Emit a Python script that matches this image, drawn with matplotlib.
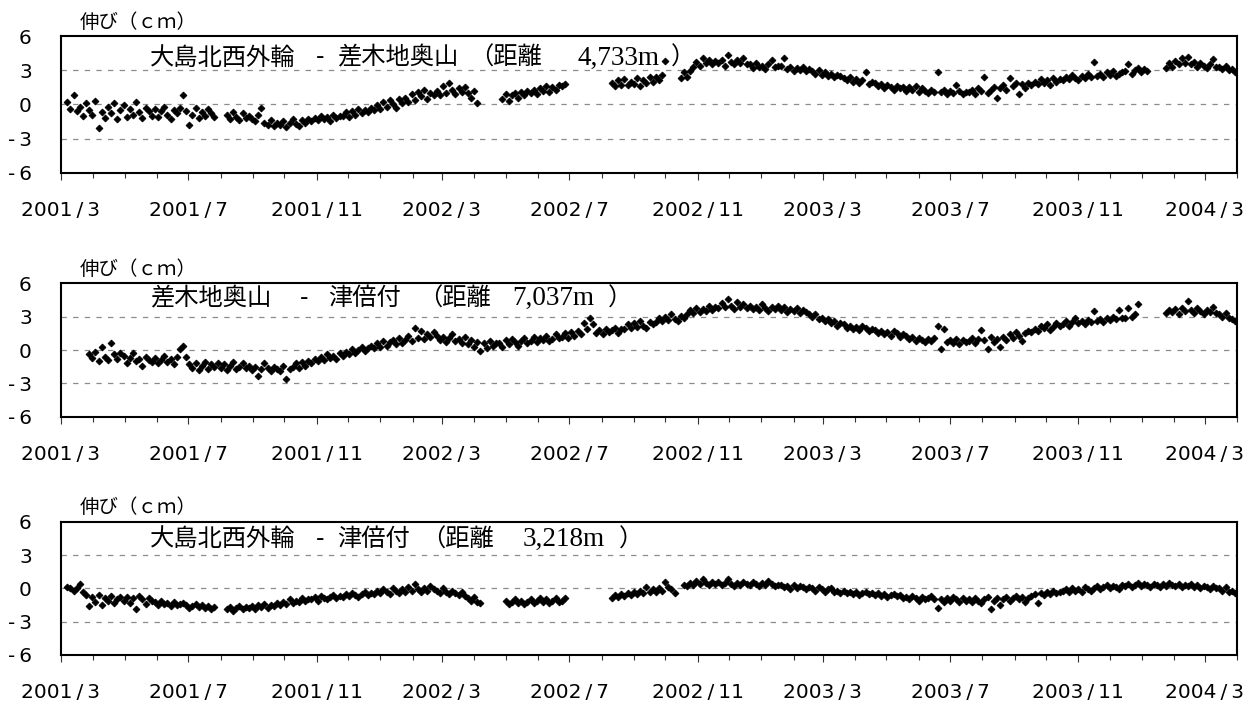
import numpy as np
import pandas as pd
import matplotlib
matplotlib.use("Agg")
import matplotlib.pyplot as plt
import matplotlib.dates as mdates
from matplotlib.ticker import FuncFormatter

nan = np.nan

# baseline readings, one every third day from 2001-03-01
dates = pd.date_range("2001-03-01", periods=376, freq="3D")

oshima_sashikiji = [
    nan, nan, 0.2, -0.4, 0.8, -0.6, -0.2, -1.0, 0.1, -0.5,
    -0.9, 0.3, -2.1, -0.7, -1.2, -0.2, -0.8, 0.1, -1.3, -0.5,
    -0.1, -1.1, -0.4, -0.9, 0.2, -0.7, -1.2, -0.3, -0.6, -1.0,
    -0.4, -1.1, -0.6, -0.2, -0.9, -1.3, -0.5, -0.8, -0.3, 0.8,
    -0.6, -1.8, -0.9, -0.3, -1.2, -0.7, -1.0, -0.4, -0.8, -1.1,
    nan, nan, nan, -0.9, -1.3, -0.7, -1.1, -1.4, -0.8, -1.2,
    -1.0, -1.3, -1.5, -0.9, -0.3, -1.6, -1.8, -1.4, -1.9, -1.6,
    -1.8, -1.5, -2.0, -1.6, -1.3, -1.7, -1.9, -1.4, -1.6, -1.3,
    -1.5, -1.2, -1.4, -1.0, -1.3, -1.1, -1.5, -0.9, -1.2, -1.0,
    -1.0, -0.7, -1.1, -0.6, -0.9, -0.4, -0.8, -0.5, -0.7, -0.3,
    -0.5, -0.1, -0.4, 0.2, -0.2, 0.4, 0.0, -0.3, 0.5, 0.1,
    0.6, 0.2, 0.9, 0.4, 1.1, 0.7, 1.3, 0.5, 1.0, 0.8,
    1.2, 0.8, 1.6, 1.0, 1.9, 1.3, 0.9, 1.4, 1.1, 1.5,
    1.0, 0.6, 1.2, 0.1, nan, nan, nan, nan, nan, nan,
    nan, 0.5, 0.9, 0.3, 0.8, 1.0, 0.6, 1.1, 0.8, 1.2,
    1.0, 1.3, 0.9, 1.4, 1.2, 1.6, 1.1, 1.5, 1.3, 1.7,
    1.6, 1.8, nan, nan, nan, nan, nan, nan, nan, nan,
    nan, nan, nan, nan, nan, nan, 1.9, 1.6, 2.1, 1.7,
    2.2, 1.7, 2.0, 1.8, 2.3, 1.6, 2.1, 1.9, 2.4, 2.0,
    2.4, 2.1, 2.6, 3.8, nan, nan, nan, nan, 2.3, 2.8,
    2.4, 2.9, 3.3, 3.7, 3.4, 4.1, 3.6, 3.9, 3.5, 3.8,
    3.6, 3.9, 3.4, 4.3, 3.7, 3.5, 3.9, 3.6, 4.1, 3.5,
    3.5, 3.2, 3.6, 3.3, 3.4, 3.1, 3.5, 3.9, 3.3, 3.4,
    3.4, 4.1, 3.1, 3.3, 2.9, 3.2, 3.0, 3.3, 2.9, 3.1,
    2.9, 2.7, 3.0, 2.6, 2.8, 2.5, 2.7, 2.4, 2.6, 2.5,
    2.3, 2.1, 2.4, 2.0, 2.2, 1.9, 2.1, 2.8, 1.8, 2.0,
    1.9, 1.6, 1.8, 1.4, 1.7, 1.5, 1.3, 1.6, 1.4, 1.5,
    1.2, 1.5, 1.3, 1.6, 1.1, 1.4, 1.2, 1.0, 1.3, 1.1,
    2.8, 1.1, 1.3, 0.9, 1.2, 1.0, 1.7, 1.2, 0.9, 1.1,
    1.1, 1.3, 0.9, 1.4, 1.2, 2.4, 1.0, 1.3, 1.5, 0.6,
    1.4, 1.7, 1.3, 2.3, 1.6, 1.9, 0.9, 1.8, 1.4, 1.9,
    1.7, 2.0, 1.8, 2.2, 1.9, 2.1, 1.7, 2.3, 2.0, 2.2,
    2.1, 2.4, 2.2, 2.6, 2.3, 2.1, 2.5, 2.3, 2.7, 2.4,
    3.7, 2.5, 2.7, 2.4, 2.8, 2.6, 2.9, 2.5, 2.7, 2.8,
    2.9, 3.5, 2.7, 3.0, 3.2, 2.8, 3.1, 2.9, nan, nan,
    nan, nan, nan, 3.2, 3.6, 3.3, 3.8, 3.5, 4.1, 3.6,
    4.2, 3.5, 3.7, 3.3, 3.6, 3.4, 3.2, 3.5, 4.0, 3.3,
    3.3, 3.1, 3.4, 3.0, 3.1, 2.8,
]

sashikiji_tsubaitsuki = [
    nan, nan, nan, nan, nan, nan, nan, nan, nan, -0.4,
    -0.7, -0.2, -1.0, 0.3, -0.6, -0.9, 0.6, -0.4, -0.8, -0.3,
    -0.5, -1.2, -0.7, -0.3, -1.0, -0.8, -1.4, -0.6, -0.9, -1.1,
    -0.7, -1.2, -0.9, -0.5, -1.1, -0.8, -1.3, -0.6, 0.1, 0.4,
    -0.6, -1.3, -1.6, -1.2, -1.8, -1.4, -1.1, -1.7, -1.3, -1.5,
    -1.2, -1.6, -1.3, -1.8, -1.4, -1.1, -1.7, -1.5, -1.2, -1.6,
    -1.4, -1.8, -1.5, -2.3, -1.7, -1.2, -1.6, -1.9, -1.5, -1.7,
    -1.9, -1.4, -2.6, -1.7, -1.5, -1.2, -1.6, -1.1, -1.4, -1.0,
    -1.2, -0.8, -1.0, -0.6, -0.9, -0.4, -0.7, -0.5, -0.8, -0.3,
    -0.5, -0.2, -0.4, 0.1, -0.3, 0.0, 0.3, -0.1, 0.2, 0.4,
    0.2, 0.6, 0.3, 0.8, 0.4, 0.7, 0.9, 0.5, 1.1, 0.6,
    0.9, 1.3, 0.8, 2.0, 1.1, 1.7, 1.0, 1.4, 1.2, 1.6,
    1.3, 0.9, 1.2, 0.7, 1.1, 1.4, 0.8, 1.0, 0.6, 1.2,
    0.5, 0.9, 0.3, 0.7, -0.1, 0.6, 0.2, 0.8, 0.4, 0.6,
    0.6, 0.3, 0.9, 0.5, 1.0, 0.7, 0.4, 0.8, 1.1, 0.6,
    0.8, 1.2, 0.7, 1.1, 0.9, 1.3, 0.8, 1.0, 1.4, 1.1,
    1.2, 1.5, 1.1, 1.6, 1.3, 1.7, 1.4, 2.4, 1.9, 2.9,
    2.3, 1.5, 1.8, 1.4, 1.9, 1.6, 1.8, 2.0, 1.5, 1.9,
    1.9, 2.3, 2.0, 2.4, 2.1, 2.6, 2.2, 2.0, 2.5, 2.3,
    2.5, 2.9, 2.6, 3.0, 2.7, 3.2, 2.8, 2.6, 3.1, 2.9,
    3.2, 3.6, 3.3, 3.8, 3.4, 3.7, 3.5, 4.0, 3.6, 3.9,
    3.8, 4.2, 3.9, 4.6, 4.0, 3.7, 4.3, 3.9, 4.1, 3.8,
    4.0, 3.7, 3.9, 3.6, 4.1, 3.8, 3.5, 3.9, 3.7, 4.0,
    3.6, 3.9, 3.4, 3.7, 3.5, 3.8, 3.3, 3.6, 3.4, 3.2,
    3.0, 3.2, 2.8, 2.9, 2.6, 2.8, 2.4, 2.6, 2.2, 2.4,
    2.3, 2.0, 2.2, 1.9, 2.1, 1.8, 2.2, 2.0, 1.7, 1.9,
    1.8, 1.5, 1.7, 1.4, 1.6, 1.3, 1.7, 1.5, 1.2, 1.4,
    1.3, 1.0, 1.2, 0.8, 1.1, 0.9, 0.7, 1.0, 0.8, 1.1,
    2.2, 0.1, 1.9, 0.7, 0.9, 0.6, 1.0, 0.5, 0.9, 0.7,
    0.8, 1.1, 0.6, 1.0, 1.8, 0.9, 0.1, 1.2, 0.7, 1.0,
    0.3, 1.2, 0.9, 1.4, 1.1, 1.6, 1.3, 0.8, 1.5, 1.7,
    1.6, 1.9, 1.7, 2.2, 2.0, 2.3, 1.8, 2.1, 2.4, 2.2,
    2.3, 2.6, 2.2, 2.5, 2.9, 2.4, 2.6, 2.3, 2.7, 2.5,
    3.5, 2.6, 2.8, 2.5, 2.9, 2.7, 3.0, 2.8, 3.6, 2.9,
    2.9, 3.8, 3.0, 3.2, 4.1, nan, nan, nan, nan, nan,
    nan, nan, nan, 3.3, 3.6, 3.4, 3.7, 3.2, 3.8, 3.5,
    4.4, 3.6, 3.3, 3.8, 3.5, 3.2, 3.6, 3.4, 3.9, 3.3,
    3.2, 3.0, 3.3, 2.9, 2.8, 2.6,
]

oshima_tsubaitsuki = [
    nan, nan, 0.1, 0.0, -0.2, 0.0, 0.4, -0.3, -0.6, -1.6,
    -0.8, -1.2, -0.6, -1.5, -0.9, -1.1, -0.7, -1.3, -1.0, -0.8,
    -1.1, -0.8, -1.3, -0.9, -1.9, -0.7, -1.0, -1.4, -0.9, -1.1,
    -1.2, -1.5, -1.1, -1.4, -1.3, -1.6, -1.2, -1.5, -1.4, -1.3,
    -1.5, -1.8, -1.6, -1.4, -1.7, -1.5, -1.8, -1.6, -1.9, -1.7,
    nan, nan, nan, -1.9, -1.7, -2.0, -1.8, -1.6, -1.9, -1.7,
    -1.8, -1.6, -1.9, -1.5, -1.7, -1.4, -1.8, -1.5, -1.6, -1.3,
    -1.5, -1.2, -1.4, -1.0, -1.3, -1.1, -1.2, -0.9, -1.1, -1.0,
    -1.0, -0.8, -1.1, -0.7, -0.9, -1.0, -0.8, -0.6, -0.9, -0.7,
    -0.8, -0.5, -0.7, -0.4, -0.6, -0.8, -0.5, -0.3, -0.6, -0.4,
    -0.5, -0.2, -0.4, -0.1, -0.3, -0.5, 0.0, -0.2, -0.4, -0.1,
    -0.3, 0.1, -0.2, 0.4, -0.1, -0.3, 0.0, -0.2, 0.2, -0.1,
    -0.2, -0.4, 0.0, -0.3, -0.5, -0.2, -0.4, -0.6, -0.3, -0.7,
    -0.9, -1.1, -0.8, -1.2, -1.3, nan, nan, nan, nan, nan,
    nan, nan, -1.1, -1.4, -1.2, -1.0, -1.3, -1.1, -1.4, -1.2,
    -1.0, -1.3, -1.1, -0.9, -1.2, -1.0, -1.3, -1.1, -0.9, -1.2,
    -1.1, -0.9, nan, nan, nan, nan, nan, nan, nan, nan,
    nan, nan, nan, nan, nan, nan, -0.9, -0.6, -0.8, -0.5,
    -0.7, -0.4, -0.6, -0.3, -0.5, -0.2, -0.4, 0.1, -0.3, -0.1,
    -0.3, 0.0, -0.2, 0.6, 0.1, -0.1, -0.4, nan, nan, 0.3,
    0.2, 0.5, 0.3, 0.7, 0.4, 0.8, 0.5, 0.3, 0.6, 0.4,
    0.6, 0.3, 0.5, 0.8, 0.4, 0.2, 0.5, 0.3, 0.6, 0.4,
    0.3, 0.6, 0.4, 0.2, 0.5, 0.3, 0.7, 0.4, 0.2, 0.3,
    0.3, 0.1, 0.2, -0.1, 0.3, 0.0, 0.2, 0.1, -0.1, 0.1,
    0.0, -0.2, 0.1, -0.1, -0.3, -0.1, 0.0, -0.3, -0.2, -0.4,
    -0.2, -0.4, -0.3, -0.5, -0.3, -0.6, -0.4, -0.3, -0.5, -0.4,
    -0.6, -0.4, -0.7, -0.5, -0.8, -0.6, -0.5, -0.7, -0.6, -0.9,
    -0.8, -1.0, -0.7, -0.9, -1.1, -0.8, -1.0, -0.9, -0.7, -1.0,
    -1.8, -1.0, -1.2, -0.9, -1.1, -0.8, -1.0, -1.2, -0.9, -1.1,
    -1.0, -1.2, -0.9, -1.1, -1.3, -1.0, -0.8, -1.9, -1.1, -0.9,
    -1.5, -1.0, -0.8, -1.1, -0.9, -0.7, -1.0, -0.8, -1.2, -0.9,
    -0.7, -0.5, -1.3, -0.4, -0.6, -0.3, -0.5, -0.2, -0.4, -0.3,
    -0.2, -0.1, -0.3, 0.0, -0.2, -0.1, -0.3, 0.1, -0.1, -0.2,
    0.0, 0.2, -0.1, 0.1, 0.3, 0.0, 0.2, 0.1, -0.1, 0.3,
    0.2, 0.4, 0.1, 0.3, 0.5, 0.2, 0.4, 0.3, 0.1, 0.4,
    0.3, 0.1, 0.4, 0.2, 0.5, 0.3, 0.2, 0.4, 0.1, 0.3,
    0.2, 0.4, 0.1, 0.3, 0.0, 0.2, 0.1, -0.1, 0.2, 0.0,
    0.0, -0.2, 0.1, -0.3, -0.2, -0.4,
]

series = [oshima_sashikiji, sashikiji_tsubaitsuki, oshima_tsubaitsuki]
y_ticks = [-6, -3, 0, 3, 6]
y_ticklabels = ["-\u20096", "-\u20093", "0", "3", "6"]

# baseline names, drawn as separate pieces: (text, left x in px)
name_parts = [
    [("大島北西外輪", 150), ("-", 316), ("差木地奥山", 337), ("（距離", 469)],
    [("差木地奥山", 150), ("-", 300), ("津倍付", 328), ("（距離", 418)],
    [("大島北西外輪", 150), ("-", 316), ("津倍付", 337), ("（距離", 421)],
]
distances = [("4,733m", 577), ("7,037m", 512), ("3,218m", 523)]
close_paren_x = [671, 608, 619]

# layout in pixels
W, H = 1256, 708
ax_left, ax_right = 61, 1237
panel_top = [36, 283.3, 521.7]
panel_bottom = [172.7, 416.7, 655]
name_baseline = [28.5, 22, 24.5]

jp = "Noto Sans CJK JP"
fig = plt.figure(figsize=(W / 100, H / 100), dpi=100)


def fig_xy(px, py):
    return px / W, 1 - py / H


def date_label(x, pos):
    d = mdates.num2date(x)
    return f"{d.year}\u2009/\u2009{d.month}"


for i, vals in enumerate(series):
    top, bottom = panel_top[i], panel_bottom[i]
    ax = fig.add_axes([ax_left / W, 1 - bottom / H,
                       (ax_right - ax_left) / W, (bottom - top) / H])

    for v in (-3, 0, 3):
        ax.axhline(v, color="#8c8c8c", lw=0.9, dashes=(4.3, 5.0), zorder=1)

    ax.plot(dates, vals, linestyle="none", marker="D", ms=3.5, mew=0.6,
            color="black", zorder=3)

    ax.set_ylim(-6, 6)
    ax.set_xlim(pd.Timestamp("2001-03-01"), pd.Timestamp("2004-04-01"))
    ax.set_yticks(y_ticks)
    ax.set_yticklabels(y_ticklabels)
    ax.tick_params(axis="y", length=0, pad=21, labelsize=14.5)

    ax.xaxis.set_major_locator(mdates.MonthLocator(bymonth=(3, 7, 11)))
    ax.xaxis.set_minor_locator(mdates.MonthLocator())
    ax.xaxis.set_major_formatter(FuncFormatter(date_label))
    ax.tick_params(axis="x", which="major", direction="out", length=5.0,
                   width=0.8, color="#333333", pad=15.4, labelsize=14.5)
    ax.tick_params(axis="x", which="minor", direction="out", length=3.6,
                   width=0.8, color="#333333")

    for s in ax.spines.values():
        s.set_linewidth(1.5)
        s.set_color("black")

    # unit label above the panel
    fig.text(*fig_xy(80, top - 8.4), "伸び（ｃｍ）", family=jp, fontsize=14,
             ha="left", va="baseline")

    base = top + name_baseline[i]
    for txt, px in name_parts[i]:
        fig.text(*fig_xy(px, base), txt, family=jp, fontsize=17.5,
                 ha="left", va="baseline")
    dist, px = distances[i]
    fig.text(*fig_xy(px, base), dist, family="Liberation Serif", fontsize=19.5,
             ha="left", va="baseline")
    fig.text(*fig_xy(close_paren_x[i], base), "）", family=jp, fontsize=17.5,
             ha="left", va="baseline")

fig.savefig("out.png", dpi=100)
